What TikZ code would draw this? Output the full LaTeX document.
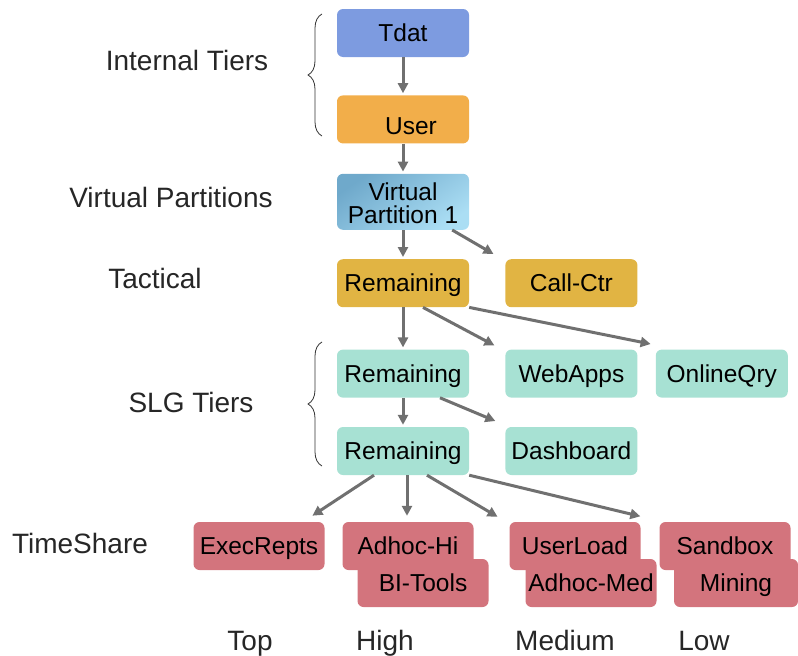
\documentclass[tikz,border=0pt]{standalone}
\usepackage{fontspec}
\setmainfont{Liberation Sans}
\usetikzlibrary{positioning,arrows.meta,decorations.pathreplacing}

\definecolor{tdatblue}{HTML}{7D9BE0}
\definecolor{userorange}{HTML}{F2AE4A}
\definecolor{vpdark}{HTML}{6FA9CB}
\definecolor{vplight}{HTML}{ABDEF4}
\definecolor{tacgold}{HTML}{E1B443}
\definecolor{slgteal}{HTML}{A7E1D3}
\definecolor{tsred}{HTML}{D3747D}
\definecolor{arrowgray}{HTML}{707070}
\definecolor{namegray}{HTML}{262626}

\newcommand{\boxfont}{\fontsize{24.5}{23}\selectfont}
\newcommand{\tierfont}{\fontsize{28}{30}\selectfont}

\begin{document}
\begin{tikzpicture}[x=1pt,y=-1pt,node distance=30pt]

\tikzstyle{tier}=[rounded corners=6pt,minimum width=132pt,minimum height=48pt,inner sep=0pt,text height=17.5pt,text depth=0pt,font=\boxfont,text=black]
\tikzstyle{tslot}=[tier,fill=tsred,minimum width=131pt]
\tikzstyle{tiername}=[anchor=base,font=\tierfont,text=namegray]
\tikzstyle{flow}=[color=arrowgray,line width=3pt,-{Triangle[length=10pt,width=10pt]},shorten >=2pt]
\tikzstyle{tierbrace}=[draw=black!80,line width=0.8pt,decorate,decoration={brace,amplitude=14pt}]

\useasboundingbox (0,0) rectangle (798,656);

% main column
\node[tier,fill=tdatblue]  (tdat) at (403,33)        {Tdat};
\node[tier,fill=userorange,text height=29.5pt] (user) [below=38pt of tdat] {\hspace*{16pt}User};
\node[tier,minimum height=56pt,align=center,text height=44pt,
      top color=vpdark,bottom color=vplight,shading angle=35] (vp) [below=30pt of user] {Virtual\\Partition 1};
\node[tier,fill=tacgold]   (rem1)   [below=29pt of vp]   {Remaining};
\node[tier,fill=tacgold]   (callctr) [right=36pt of rem1] {Call-Ctr};
\node[tier,fill=slgteal]   (slg1)   [below=42pt of rem1] {Remaining};
\node[tier,fill=slgteal]   (webapps) [right=36pt of slg1] {WebApps};
\node[tier,fill=slgteal]   (onlineqry) [right=18pt of webapps] {OnlineQry};
\node[tier,fill=slgteal]   (slg2)   [below=29pt of slg1] {Remaining};
\node[tier,fill=slgteal]   (dashboard) [right=36pt of slg2] {Dashboard};

% timeshare slots
\node[tslot] (execrepts) at (259,546) {ExecRepts};
\node[tslot] (adhochi)   at (408,546) {Adhoc-Hi};
\node[tslot] (bitools)   at (423,583) {BI-Tools};
\node[tslot] (userload)  at (575,546) {UserLoad};
\node[tslot] (adhocmed)  at (591,583) {Adhoc-Med};
\node[tslot] (sandbox)   at (725,546) {Sandbox};
\node[tslot,minimum width=124pt] (mining) at (736,583) {Mining};

% tier names
\node[tiername] (ninternal) at (187,70)  {Internal Tiers};
\node[tiername] (nvirtual)  at (171,207) {Virtual Partitions};
\node[tiername] (ntactical) at (155,288) {Tactical};
\node[tiername] (nslg)      at (191,412) {SLG Tiers};
\node[tiername] (ntimeshr)  at (80,553)  {TimeShare};
\node[tiername] (ntop)      at (250,650) {Top};
\node[tiername] (nhigh)     at (385,650) {High};
\node[tiername] (nmedium)   at (565,650) {Medium};
\node[tiername] (nlow)      at (704,650) {Low};

\draw[tierbrace] (322,136) -- (322,14);
\draw[tierbrace] (322,466) -- (322,342);

\path[flow] (tdat) edge (user)
            (user) edge (vp)
            (vp)   edge (rem1)
            ([xshift=-17pt]vp.south east) edge ([shift={(-10pt,4pt)}]callctr.north west)
            (rem1) edge (slg1)
            ([xshift=20pt]rem1.south) edge ([shift={(-9pt,3pt)}]webapps.north west)
            (rem1.south east) edge ([shift={(-3pt,5pt)}]onlineqry.north west)
            (slg1) edge (slg2)
            ([xshift=37pt]slg1.south) edge ([shift={(-8pt,5pt)}]dashboard.north west)
            ([xshift=-29pt]slg2.south) edge ([shift={(-14pt,5pt)}]execrepts.north east)
            ([xshift=4pt]slg2.south) edge ([shift={(-1pt,4pt)}]adhochi.north)
            ([xshift=24pt]slg2.south) edge ([shift={(-10pt,4pt)}]userload.north west)
            (slg2.south east) edge ([shift={(-17pt,5pt)}]sandbox.north west);
\end{tikzpicture}
\end{document}
